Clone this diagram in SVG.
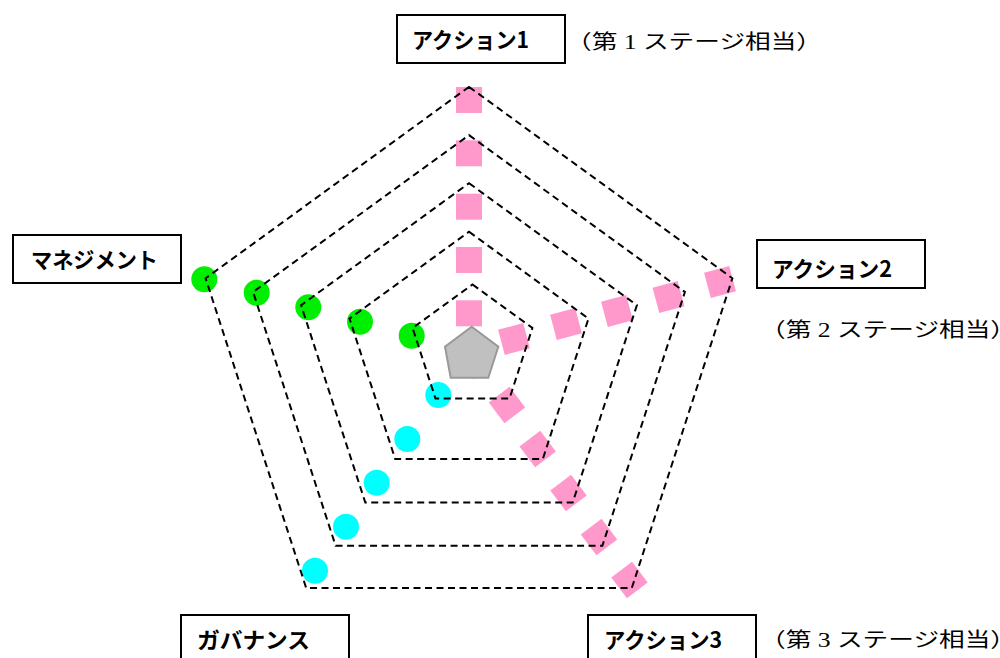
<svg xmlns="http://www.w3.org/2000/svg" width="1000" height="658" viewBox="0 0 1000 658">
<style>
.ring{fill:none;stroke:#000;stroke-width:2;stroke-dasharray:7 4.5}
.sq{fill:#FF99CC}
.g{fill:#00EE00}
.c{fill:#00FFFF}
.box{fill:#fff;stroke:#000;stroke-width:2}
.lbl{font-family:"Noto Sans CJK JP","Noto Sans CJK SC",sans-serif;font-weight:bold;font-size:22px;fill:#000}
.note{font-family:"Liberation Serif","Noto Sans CJK JP",serif;font-size:20px;fill:#000}
</style>
<defs>
<rect id="s" x="-13" y="-13" width="26" height="26" class="sq"/>
</defs>
<rect width="1000" height="658" fill="#fff"/>
<g id="series-action1">
<use href="#s" transform="translate(469,100)"/>
<use href="#s" transform="translate(469,153.3)"/>
<use href="#s" transform="translate(469,206.7)"/>
<use href="#s" transform="translate(469,260)"/>
<use href="#s" transform="translate(469,313.3)"/>
</g>
<g id="series-action2">
<use href="#s" transform="translate(514,339) rotate(-15)"/>
<use href="#s" transform="translate(566,324) rotate(-15)"/>
<use href="#s" transform="translate(617,311) rotate(-15)"/>
<use href="#s" transform="translate(668.5,297) rotate(-15)"/>
<use href="#s" transform="translate(720,282) rotate(-15)"/>
</g>
<g id="series-action3">
<use href="#s" transform="translate(476,361) rotate(-37)"/>
<use href="#s" transform="translate(507,405) rotate(-37)"/>
<use href="#s" transform="translate(537.7,449) rotate(-37)"/>
<use href="#s" transform="translate(568.5,493) rotate(-37)"/>
<use href="#s" transform="translate(599,537) rotate(-37)"/>
<use href="#s" transform="translate(629.5,580) rotate(-37)"/>
</g>
<g id="series-management">
<circle class="g" cx="204.3" cy="279.3" r="13"/>
<circle class="g" cx="256.7" cy="292.7" r="13"/>
<circle class="g" cx="308.3" cy="307.3" r="13"/>
<circle class="g" cx="360" cy="321.7" r="13"/>
<circle class="g" cx="411.7" cy="335.7" r="13"/>
</g>
<g id="series-governance">
<circle class="c" cx="438.3" cy="395" r="13"/>
<circle class="c" cx="407.3" cy="439" r="13"/>
<circle class="c" cx="376.7" cy="482.7" r="13"/>
<circle class="c" cx="346" cy="526.7" r="13"/>
<circle class="c" cx="315" cy="570.7" r="13"/>
</g>
<g id="center">
<polygon points="471.7,326.7 498.3,346.7 488.3,377.7 450.7,377.7 445,346.7" fill="#C0C0C0" stroke="#999999" stroke-width="2"/>
</g>
<g id="connectors">
<polygon class="ring" points="469,86.9 732.4,278.3 631.8,588 306.2,588 205.6,278.3"/>
<polygon class="ring" points="469,135.1 684.9,292 602.4,545.7 335.6,545.7 253.1,292"/>
<polygon class="ring" points="469,183.2 636.9,305.2 572.7,502.5 365.3,502.5 301.1,305.2"/>
<polygon class="ring" points="469,231.8 588.5,318.6 542.8,459 395.2,459 349.5,318.6"/>
<polygon class="ring" points="472.5,284.5 532.4,328 509.5,398.5 435.5,398.5 412.6,328"/>
</g>
<g id="label-action1">
<rect class="box" x="397" y="15" width="168" height="48"/>
<text class="lbl" x="412" y="48" textLength="117" lengthAdjust="spacingAndGlyphs">アクション1</text>
</g>
<text class="note" x="566" y="49" textLength="256" lengthAdjust="spacingAndGlyphs">（第 1 ステージ相当）</text>
<g id="label-management">
<rect class="box" x="13" y="235" width="168" height="48"/>
<text class="lbl" x="31" y="267.5" textLength="127" lengthAdjust="spacingAndGlyphs">マネジメント</text>
</g>
<g id="label-action2">
<rect class="box" x="757" y="240" width="168" height="48"/>
<text class="lbl" x="772" y="276.5" textLength="120" lengthAdjust="spacingAndGlyphs">アクション2</text>
</g>
<text class="note" x="760" y="337" textLength="256" lengthAdjust="spacingAndGlyphs">（第 2 ステージ相当）</text>
<g id="label-governance">
<rect class="box" x="181" y="615" width="168" height="60"/>
<text class="lbl" x="197" y="647.5" textLength="113" lengthAdjust="spacingAndGlyphs">ガバナンス</text>
</g>
<g id="label-action3">
<rect class="box" x="588" y="615" width="168" height="60"/>
<text class="lbl" x="604" y="647.5" textLength="118" lengthAdjust="spacingAndGlyphs">アクション3</text>
</g>
<text class="note" x="760" y="647" textLength="256" lengthAdjust="spacingAndGlyphs">（第 3 ステージ相当）</text>
</svg>
